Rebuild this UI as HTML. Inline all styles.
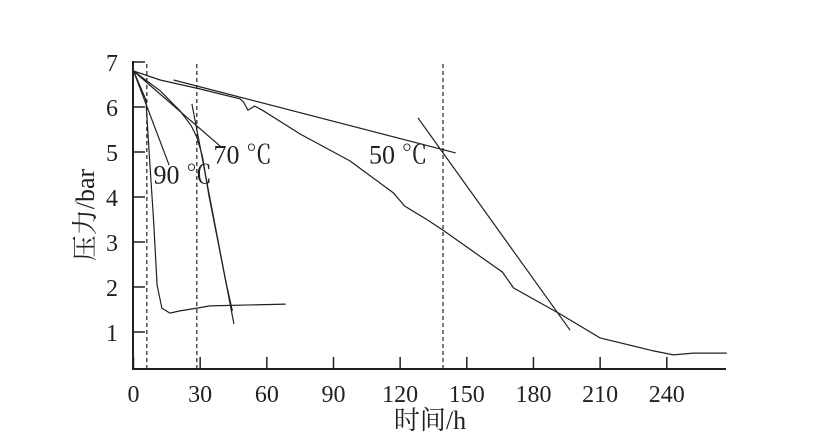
<!DOCTYPE html>
<html><head><meta charset="utf-8"><style>
body{margin:0;background:#fff}
svg text{font-family:"Liberation Serif","Noto Serif CJK SC",serif;fill:#231f20}
</style></head><body>
<svg id="c" width="833" height="440" viewBox="0 0 833 440">
<g id="g"></g>
</svg>
<script>
const xTicks=[0,30,60,90,120,150,180,210,240];
const yTicks=[1,2,3,4,5,6,7];
const curve50H=[0,12,30,48,49.5,51.5,54.5,58,75,97.5,117,122,132,139,166,171,192,210,234,243,252,267];
const curve50P=[6.8,6.6,6.4,6.18,6.11,5.93,6.02,5.93,5.4,4.8,4.09,3.8,3.5,3.27,2.33,1.98,1.4,0.87,0.58,0.49,0.53,0.53];
const curve70H=[0,12,21,26,28.5,31,34,38,41.5,44.5];
const curve70P=[6.8,6.36,5.91,5.58,5.33,4.91,4.02,3.02,2.13,1.47];
const curve90H=[0,5.6,7,9,10.6,12.8,16.4,20.9,28.6,34.4,68.5];
const curve90P=[6.8,6.16,5.0,3.51,2.04,1.53,1.42,1.47,1.53,1.58,1.62];
const tangentH=[[18,145],[128,196.5],[0,39],[26.3,45.2],[0,16]];
const tangentP=[[6.6,4.98],[5.76,1.04],[6.8,5.13],[6.07,1.18],[6.8,4.71]];
const dashedH=[6,28.5,139.3];
const labels=["90 ℃","70 ℃","50 ℃"];
const labelH=[9,36,106];
const labelP=[4.3,4.75,4.75];

const X=h=>133.5+h*2.222;
const Y=p=>62+(7-p)*45;
const g=document.getElementById('g');
const NS='http://www.w3.org/2000/svg';
function mk(t,a){const e=document.createElementNS(NS,t);for(const k in a)e.setAttribute(k,a[k]);g.appendChild(e);return e;}
// axes
let ax=mk('line',{x1:133,y1:369,x2:726,y2:369,stroke:'#231f20','stroke-width':2});


let ay=mk('line',{x1:133,y1:61,x2:133,y2:370,stroke:'#231f20','stroke-width':2});


xTicks.forEach(v=>{
  let t=mk('line',{x1:X(v),y1:369,x2:X(v),y2:357,stroke:'#231f20','stroke-width':1.5});
  
  
  let l=mk('text',{x:X(v),y:402,'font-size':24,'text-anchor':'middle'});l.textContent=v;
  
  
});
yTicks.forEach(v=>{
  let t=mk('line',{x1:133,y1:Y(v),x2:145,y2:Y(v),stroke:'#231f20','stroke-width':1.5});
  
  
  let l=mk('text',{x:118,y:Y(v)+9,'font-size':24,'text-anchor':'end'});l.textContent=v;
  
  
});
dashedH.forEach(v=>{
  let d=mk('line',{x1:X(v),y1:64,x2:X(v),y2:369,stroke:'#231f20','stroke-width':1.2,'stroke-dasharray':'4,3'});
  
  
});
function curve(H,P,name){
  let d=H.map((h,i)=>(i?'L':'M')+X(h).toFixed(1)+','+Y(P[i]).toFixed(1)).join('');
  let e=mk('path',{d:d,fill:'none',stroke:'#231f20','stroke-width':1.2});
  
  
}
curve(curve50H,curve50P,'curve-50c');
curve(curve70H,curve70P,'curve-70c');
curve(curve90H,curve90P,'curve-90c');
tangentH.forEach((H,i)=>curve(H,tangentP[i],'tangent-line'));
labels.forEach((s,i)=>{
  let l=mk('text',{x:X(labelH[i]),y:Y(labelP[i]),'font-size':26});l.textContent=s;
  
  
});
let xt=mk('text',{x:430,y:429,'font-size':26,'text-anchor':'middle'});xt.textContent='时间/h';


let yt=mk('text',{x:0,y:0,'font-size':26,'text-anchor':'middle',transform:'translate(94,215) rotate(-90)'});yt.textContent='压力/bar';


</script>
</body></html>
